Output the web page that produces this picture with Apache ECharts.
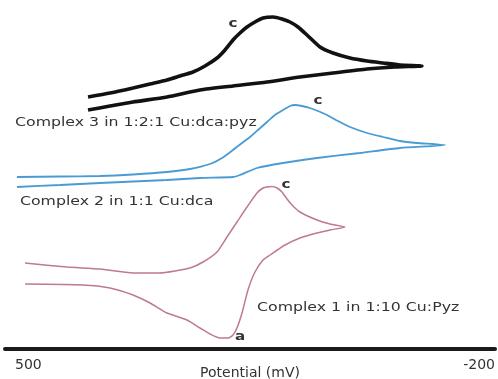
<!DOCTYPE html>
<html>
<head>
<meta charset="utf-8">
<script src="https://cdn.jsdelivr.net/npm/echarts@6/dist/echarts.min.js"></script>
<style>
html,body{margin:0;padding:0;background:#fff;}
#chart{width:498px;height:379px;}
</style>
</head>
<body>
<div id="chart"></div>
<script>
// Potential axis (mV), drawn reversed: 500 on the left, -200 on the right
var xTicks = [500, -200];
var xAxisName = 'Potential (mV)';

// Current (arbitrary units, stacked offsets) vs potential (mV); each loop: forward branch then return branch
var complex3 = [
  [381.4,252],[350,256],[317.1,261],[292.9,265],[268.6,269],[250,273],[231.4,277],[214.3,283],
  [197.1,291],[185.7,299],[174.3,309],[164.3,316],[154.3,322],[142.9,327],[131.4,331],[117.1,332],
  [104.3,330],[92.9,327],[81.4,322],[68.6,314],[50,302],[31.4,296],[7.1,291],[-17.1,288],
  [-40,286],[-64.3,284],[-95.7,283],
  [-57.1,282],[-17.1,280],[31.4,276],[78.6,272],[125.7,267],[174.3,263],[221.4,259],
  [268.6,252],[317.1,247],[350,243],[381.4,239]
];
var complex2 = [
  [482.9,172],[421.4,172.5],[364.3,173],[317.1,174.5],[268.6,177],[235.7,180],[207.1,185],[190,191],
  [174.3,199],[161.4,206],[150,212],[138.6,219],[125.7,227],[114.3,234],[102.9,239],[92.9,243],
  [85.7,244],[75.7,243],[64.3,241],[52.9,238],[40,234],[24.3,228],[7.1,222],[-17.1,216],
  [-40,212],[-64.3,208],[-88.6,206],[-111.4,205],[-128.6,204],
  [-64.3,201],[-7.1,196],[54.3,191],[102.9,186],[140,181],[164.3,174],[174.3,172],
  [221.4,171],[268.6,169],[317.1,167.5],[364.3,166],[421.4,164],[482.9,162]
];
var complex1 = [
  [471.4,86],[411.4,82],[364.3,80],[317.1,76],[278.6,76],[257.1,78],[235.7,81],[217.1,87],
  [197.1,97],[182.9,112],[168.6,127],[154.3,142],[140,156],[131.4,161],[125.7,162],[118.6,162.5],
  [111.4,161],[104.3,157],[97.1,150],[88.6,143],[78.6,137],[54.3,129],[35.7,125],[14.3,122],
  [35.7,119],[54.3,116],[78.6,111],[100,104],[121.4,94],[131.4,89],[142.9,77],[152.9,59],
  [161.4,36],[168.6,21],[174.3,14],[181.4,11],[192.9,11],[207.1,15],[221.4,21],[240,29],
  [268.6,36],[292.9,46],[317.1,54],[350,61],[388.6,64],[471.4,65]
];

// annotations: [text, potential, current, align, bold]
var notes = [
  ['c', 174.3, 325, 'center', true],
  ['Complex 3 in 1:2:1 Cu:dca:pyz', 485.7, 226, 'left', false],
  ['c', 52.9, 248, 'center', true],
  ['Complex 2 in 1:1 Cu:dca', 478.6, 147, 'left', false],
  ['c', 98.6, 164, 'center', true],
  ['Complex 1 in 1:10 Cu:Pyz', 140, 41, 'left', false],
  ['a', 164.3, 12, 'center', true]
];

var chart = echarts.init(document.getElementById('chart'), null, {renderer:'canvas'});
function lineSeries(name, data, color, width){
  return {name:name, type:'line', data:data, showSymbol:false, smooth:0.2, silent:true,
    lineStyle:{color:color, width:width}, animation:false};
}
chart.setOption({
  animation:false,
  backgroundColor:'#ffffff',
  grid:{left:5, right:3, top:10, bottom:30, containLabel:false, outerBoundsMode:'none'},
  xAxis:{type:'value', inverse:true, min:xTicks[1], max:xTicks[0], interval:xTicks[0]-xTicks[1],
    axisLine:{lineStyle:{color:'#1a1a1a', width:4}},
    axisTick:{show:false}, splitLine:{show:false},
    axisLabel:{fontFamily:'DejaVu Sans', fontSize:14, color:'#333', margin:9,
      alignMinLabel:'right', alignMaxLabel:'left', padding:[0,0,0,10]},
    name:xAxisName, nameLocation:'middle', nameGap:17, nameMoveOverlap:false,
    nameTextStyle:{fontFamily:'DejaVu Sans', fontSize:14, color:'#333'}},
  yAxis:{type:'value', min:0, max:339, show:false},
  series:[
    lineSeries('Complex 3', complex3, '#111111', 3.6),
    lineSeries('Complex 2', complex2, '#4a9bd4', 1.8),
    lineSeries('Complex 1', complex1, '#bf7a8c', 1.5)
  ]
});
var g = notes.map(function(n){
  var p = chart.convertToPixel({gridIndex:0}, [n[1], n[2]]);
  return {type:'text', x:p[0], y:p[1], scaleX:1.26, silent:true,
    style:{text:n[0], fontFamily:'DejaVu Sans', fontSize:n[4]?12:12.5, fontWeight:n[4]?'bold':'normal',
      fill:'#333', align:n[3], verticalAlign:'middle'}};
});
chart.setOption({graphic:g});
</script>
</body>
</html>
